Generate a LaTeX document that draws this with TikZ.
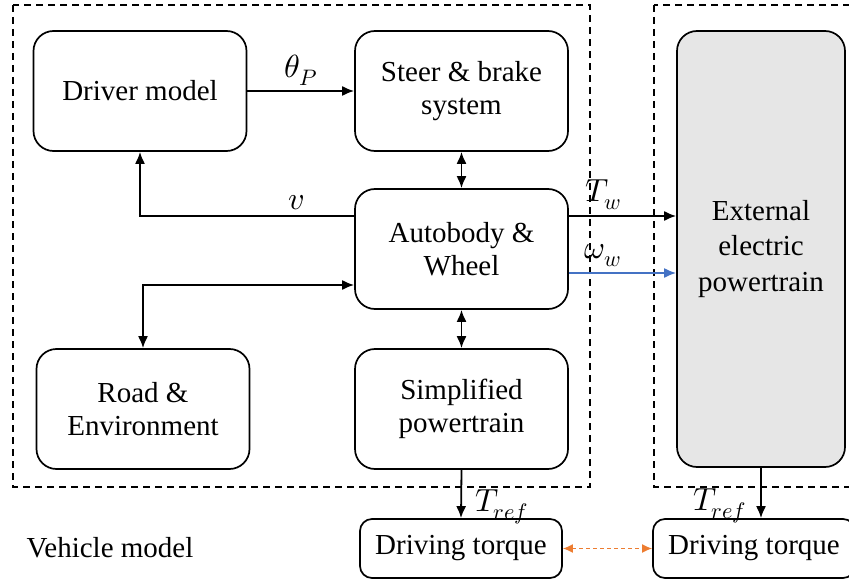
\documentclass[tikz,border=0pt]{standalone}
\usepackage{fontspec}
\usepackage{unicode-math}
\setmainfont{Liberation Serif}
\setmathfont{Latin Modern Math}
\usetikzlibrary{arrows.meta}
\definecolor{boxgray}{RGB}{230,230,230}
\definecolor{flowblue}{RGB}{68,114,196}
\definecolor{linkorange}{RGB}{237,125,49}
\begin{document}
\begin{tikzpicture}[x=1pt,y=-1pt,
  font=\fontsize{29}{33}\selectfont,
  block/.style={draw, line width=1.7pt, rounded corners=20pt, align=center,
    minimum width=213pt, minimum height=120pt, inner sep=0pt},
  smallblock/.style={draw, line width=1.7pt, rounded corners=12pt, align=center,
    minimum width=202pt, minimum height=59pt, inner sep=0pt},
  conn/.style={line width=1.8pt, -{Latex[length=12pt,width=10pt]}},
  biconn/.style={line width=1.8pt, {Latex[length=12pt,width=10pt]}-{Latex[length=12pt,width=10pt]}},
  dbox/.style={line width=1.3pt, dash pattern=on 7pt off 5pt},
  lbl/.style={inner sep=2pt, font=\fontsize{32}{34}\selectfont}]
\useasboundingbox (0,0) rectangle (849,583);
\clip (0,0) rectangle (849,583);

% dashed frames
\draw[dbox] (13,5) rectangle (590,487);
\draw[dbox] (654,5) rectangle (870,487);

% blocks of the vehicle model
\node[block] (dm) at (140,91) {Driver model};
\node[block] (sb) at (461.5,91) {Steer \& brake\\system};
\node[block] (aw) at (461.5,249) {Autobody \&\\Wheel};
\node[block] (re) at (143,409) {Road \&\\Environment};
\node[block] (sp) at (461.5,409) {Simplified\\powertrain};

% external powertrain
\node[block, fill=boxgray, minimum width=168pt, minimum height=436pt,
  font=\fontsize{29}{35.5}\selectfont] (ext) at (761,249) {External\\electric\\powertrain};

% torque reference blocks
\node[smallblock] (dtl) at (461,548.5) {Driving torque};
\node[smallblock] (dtr) at (754,548.5) {Driving torque};

\node (vm) at (110,548) {Vehicle model};

% connectors
\draw[conn] (dm.east) -- node[above, lbl, yshift=3pt] {$\theta_P$} (sb.west);
\draw[biconn] (sb.south) -- (aw.north);
\draw[biconn] (aw.south) -- (sp.north);
\draw[conn] ([yshift=33pt]aw.west) -| node[pos=0.135, above, lbl, yshift=3pt] {$v$} (dm.south);
\draw[biconn] (re.north) |- ([yshift=-36pt]aw.west);
\draw[conn] ([yshift=33pt]aw.east) -- node[pos=0.32, above, lbl, yshift=3pt] {$T_w$} ([yshift=33pt]ext.west);
\draw[conn, flowblue] ([yshift=-24pt]aw.east) -- node[pos=0.32, above, lbl, black, yshift=3pt] {$\omega_w$} ([yshift=-24pt]ext.west);
\draw[conn] (sp.south) -- node[pos=0.76, right, lbl, xshift=11pt] {$T_{ref}$} (dtl.north);
\draw[conn] (ext.south) -- node[pos=0.76, left, lbl, xshift=-12pt] {$T_{ref}$} (ext.south |- dtr.north);
\draw[linkorange, line width=1.5pt, dash pattern=on 4pt off 3pt,
  {Latex[length=10pt,width=9pt]}-{Latex[length=10pt,width=9pt]}] (dtl.east) -- (dtr.west);
\end{tikzpicture}
\end{document}
